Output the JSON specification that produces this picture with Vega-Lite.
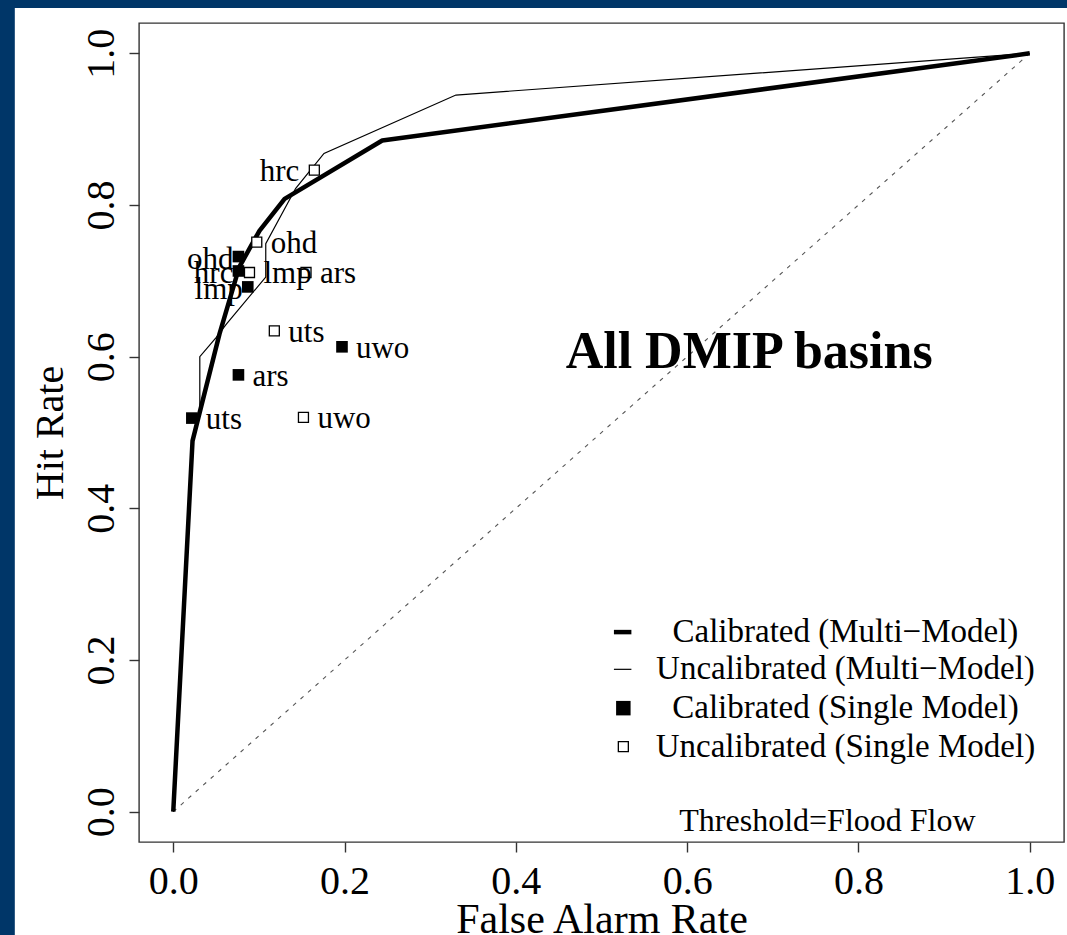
{
  "$schema": "https://vega.github.io/schema/vega-lite/v6.json",
  "width": 925,
  "height": 819,
  "autosize": {"type": "none"},
  "padding": {"left": 139, "top": 23, "right": 3, "bottom": 93},
  "background": "white",
  "config": {
    "font": "Liberation Serif",
    "view": {"stroke": "#333333", "strokeWidth": 1.4, "fill": "white"},
    "text": {"font": "Liberation Serif", "color": "black"}
  },
  "datasets": {
    "diag": [{"far": 0, "hr": 0}, {"far": 1, "hr": 1}],
    "curves": [
      {"series": "Calibrated", "i": 0, "far": 0, "hr": 0},
      {"series": "Calibrated", "i": 1, "far": 0.0225, "hr": 0.489},
      {"series": "Calibrated", "i": 2, "far": 0.054, "hr": 0.63},
      {"series": "Calibrated", "i": 3, "far": 0.077, "hr": 0.718},
      {"series": "Calibrated", "i": 4, "far": 0.1006, "hr": 0.766},
      {"series": "Calibrated", "i": 5, "far": 0.13, "hr": 0.808},
      {"series": "Calibrated", "i": 6, "far": 0.244, "hr": 0.885},
      {"series": "Calibrated", "i": 7, "far": 1, "hr": 1},
      {"series": "Uncalibrated", "i": 0, "far": 0, "hr": 0},
      {"series": "Uncalibrated", "i": 1, "far": 0.0225, "hr": 0.482},
      {"series": "Uncalibrated", "i": 2, "far": 0.031, "hr": 0.53},
      {"series": "Uncalibrated", "i": 3, "far": 0.031, "hr": 0.6},
      {"series": "Uncalibrated", "i": 4, "far": 0.05, "hr": 0.625},
      {"series": "Uncalibrated", "i": 5, "far": 0.062, "hr": 0.643},
      {"series": "Uncalibrated", "i": 6, "far": 0.108, "hr": 0.705},
      {"series": "Uncalibrated", "i": 7, "far": 0.108, "hr": 0.749},
      {"series": "Uncalibrated", "i": 8, "far": 0.143, "hr": 0.822},
      {"series": "Uncalibrated", "i": 9, "far": 0.176, "hr": 0.868},
      {"series": "Uncalibrated", "i": 10, "far": 0.33, "hr": 0.945},
      {"series": "Uncalibrated", "i": 11, "far": 1, "hr": 1}
    ],
    "points": [
      {"type": "Calibrated", "model": "ohd", "far": 0.0761, "hr": 0.732},
      {"type": "Calibrated", "model": "hrc", "far": 0.0761, "hr": 0.713},
      {"type": "Calibrated", "model": "lmp", "far": 0.087, "hr": 0.692},
      {"type": "Calibrated", "model": "ars", "far": 0.0761, "hr": 0.576},
      {"type": "Calibrated", "model": "uts", "far": 0.0217, "hr": 0.519},
      {"type": "Calibrated", "model": "uwo", "far": 0.197, "hr": 0.613},
      {"type": "Uncalibrated", "model": "hrc", "far": 0.1647, "hr": 0.846},
      {"type": "Uncalibrated", "model": "ohd", "far": 0.0975, "hr": 0.751},
      {"type": "Uncalibrated", "model": "lmp", "far": 0.089, "hr": 0.711},
      {"type": "Uncalibrated", "model": "ars", "far": 0.155, "hr": 0.711},
      {"type": "Uncalibrated", "model": "uts", "far": 0.118, "hr": 0.634},
      {"type": "Uncalibrated", "model": "uwo", "far": 0.152, "hr": 0.52}
    ]
  },
  "layer": [
    {
      "data": {"name": "diag"},
      "mark": {"type": "line", "stroke": "#555555", "strokeWidth": 1.1, "strokeDash": [4, 6]},
      "encoding": {
        "x": {"field": "far", "type": "quantitative", "scale": {"domain": [-0.04, 1.04], "nice": false, "zero": false},
          "axis": {"values": [0, 0.2, 0.4, 0.6, 0.8, 1], "format": ".1f", "grid": false, "domain": false, "tickSize": 10, "tickColor": "#333333", "tickWidth": 1.4, "labelFontSize": 40, "labelFont": "Liberation Serif", "labelColor": "black", "labelPadding": 9, "labelFlush": false, "labelOverlap": false, "title": "False Alarm Rate", "titleFont": "Liberation Serif", "titleFontSize": 42, "titleFontWeight": "normal", "titleColor": "black", "titleY": 90, "titleBaseline": "alphabetic", "zindex": 1}},
        "y": {"field": "hr", "type": "quantitative", "scale": {"domain": [-0.04, 1.04], "nice": false, "zero": false},
          "axis": {"values": [0, 0.2, 0.4, 0.6, 0.8, 1], "format": ".1f", "grid": false, "domain": false, "tickSize": 10, "tickColor": "#333333", "tickWidth": 1.4, "labelFontSize": 40, "labelFont": "Liberation Serif", "labelColor": "black", "labelAngle": 270, "labelAlign": "center", "labelBaseline": "alphabetic", "labelPadding": 16, "labelFlush": false, "labelOverlap": false, "title": "Hit Rate", "titleFont": "Liberation Serif", "titleFontSize": 40, "titleFontWeight": "normal", "titleColor": "black", "titleX": -77, "titleBaseline": "alphabetic", "zindex": 1}}
      }
    },
    {
      "data": {"values": [{}]},
      "mark": {"type": "rect", "fill": "#003668", "clip": false},
      "encoding": {
        "x": {"datum": -0.3, "type": "quantitative", "scale": {"domain": [-0.04, 1.04], "nice": false, "zero": false},
          "axis": {"values": [0, 0.2, 0.4, 0.6, 0.8, 1], "format": ".1f", "grid": false, "domain": false, "tickSize": 10, "tickColor": "#333333", "tickWidth": 1.4, "labelFontSize": 40, "labelFont": "Liberation Serif", "labelColor": "black", "labelPadding": 9, "labelFlush": false, "labelOverlap": false, "title": "False Alarm Rate", "titleFont": "Liberation Serif", "titleFontSize": 42, "titleFontWeight": "normal", "titleColor": "black", "titleY": 90, "titleBaseline": "alphabetic", "zindex": 1}},
        "x2": {"datum": 1.3},
        "y": {"datum": 1.0599, "type": "quantitative", "scale": {"domain": [-0.04, 1.04], "nice": false, "zero": false},
          "axis": {"values": [0, 0.2, 0.4, 0.6, 0.8, 1], "format": ".1f", "grid": false, "domain": false, "tickSize": 10, "tickColor": "#333333", "tickWidth": 1.4, "labelFontSize": 40, "labelFont": "Liberation Serif", "labelColor": "black", "labelAngle": 270, "labelAlign": "center", "labelBaseline": "alphabetic", "labelPadding": 16, "labelFlush": false, "labelOverlap": false, "title": "Hit Rate", "titleFont": "Liberation Serif", "titleFontSize": 40, "titleFontWeight": "normal", "titleColor": "black", "titleX": -77, "titleBaseline": "alphabetic", "zindex": 1}},
        "y2": {"datum": 1.2}
      }
    },
    {
      "data": {"values": [{}]},
      "mark": {"type": "rect", "fill": "#003668", "clip": false},
      "encoding": {
        "x": {"datum": -0.3, "type": "quantitative", "scale": {"domain": [-0.04, 1.04], "nice": false, "zero": false},
          "axis": {"values": [0, 0.2, 0.4, 0.6, 0.8, 1], "format": ".1f", "grid": false, "domain": false, "tickSize": 10, "tickColor": "#333333", "tickWidth": 1.4, "labelFontSize": 40, "labelFont": "Liberation Serif", "labelColor": "black", "labelPadding": 9, "labelFlush": false, "labelOverlap": false, "title": "False Alarm Rate", "titleFont": "Liberation Serif", "titleFontSize": 42, "titleFontWeight": "normal", "titleColor": "black", "titleY": 90, "titleBaseline": "alphabetic", "zindex": 1}},
        "x2": {"datum": -0.185},
        "y": {"datum": -0.3, "type": "quantitative", "scale": {"domain": [-0.04, 1.04], "nice": false, "zero": false},
          "axis": {"values": [0, 0.2, 0.4, 0.6, 0.8, 1], "format": ".1f", "grid": false, "domain": false, "tickSize": 10, "tickColor": "#333333", "tickWidth": 1.4, "labelFontSize": 40, "labelFont": "Liberation Serif", "labelColor": "black", "labelAngle": 270, "labelAlign": "center", "labelBaseline": "alphabetic", "labelPadding": 16, "labelFlush": false, "labelOverlap": false, "title": "Hit Rate", "titleFont": "Liberation Serif", "titleFontSize": 40, "titleFontWeight": "normal", "titleColor": "black", "titleX": -77, "titleBaseline": "alphabetic", "zindex": 1}},
        "y2": {"datum": 1.2}
      }
    },
    {
      "data": {"name": "curves"},
      "transform": [{"filter": "datum.series === 'Uncalibrated'"}],
      "mark": {"type": "line", "stroke": "black", "strokeWidth": 1.2},
      "encoding": {
        "x": {"field": "far", "type": "quantitative", "scale": {"domain": [-0.04, 1.04], "nice": false, "zero": false},
          "axis": {"values": [0, 0.2, 0.4, 0.6, 0.8, 1], "format": ".1f", "grid": false, "domain": false, "tickSize": 10, "tickColor": "#333333", "tickWidth": 1.4, "labelFontSize": 40, "labelFont": "Liberation Serif", "labelColor": "black", "labelPadding": 9, "labelFlush": false, "labelOverlap": false, "title": "False Alarm Rate", "titleFont": "Liberation Serif", "titleFontSize": 42, "titleFontWeight": "normal", "titleColor": "black", "titleY": 90, "titleBaseline": "alphabetic", "zindex": 1}},
        "y": {"field": "hr", "type": "quantitative", "scale": {"domain": [-0.04, 1.04], "nice": false, "zero": false},
          "axis": {"values": [0, 0.2, 0.4, 0.6, 0.8, 1], "format": ".1f", "grid": false, "domain": false, "tickSize": 10, "tickColor": "#333333", "tickWidth": 1.4, "labelFontSize": 40, "labelFont": "Liberation Serif", "labelColor": "black", "labelAngle": 270, "labelAlign": "center", "labelBaseline": "alphabetic", "labelPadding": 16, "labelFlush": false, "labelOverlap": false, "title": "Hit Rate", "titleFont": "Liberation Serif", "titleFontSize": 40, "titleFontWeight": "normal", "titleColor": "black", "titleX": -77, "titleBaseline": "alphabetic", "zindex": 1}},
        "order": {"field": "i", "type": "quantitative"}
      }
    },
    {
      "data": {"name": "curves"},
      "transform": [{"filter": "datum.series === 'Calibrated'"}],
      "mark": {"type": "line", "stroke": "black", "strokeWidth": 4.5, "strokeJoin": "round"},
      "encoding": {
        "x": {"field": "far", "type": "quantitative", "scale": {"domain": [-0.04, 1.04], "nice": false, "zero": false},
          "axis": {"values": [0, 0.2, 0.4, 0.6, 0.8, 1], "format": ".1f", "grid": false, "domain": false, "tickSize": 10, "tickColor": "#333333", "tickWidth": 1.4, "labelFontSize": 40, "labelFont": "Liberation Serif", "labelColor": "black", "labelPadding": 9, "labelFlush": false, "labelOverlap": false, "title": "False Alarm Rate", "titleFont": "Liberation Serif", "titleFontSize": 42, "titleFontWeight": "normal", "titleColor": "black", "titleY": 90, "titleBaseline": "alphabetic", "zindex": 1}},
        "y": {"field": "hr", "type": "quantitative", "scale": {"domain": [-0.04, 1.04], "nice": false, "zero": false},
          "axis": {"values": [0, 0.2, 0.4, 0.6, 0.8, 1], "format": ".1f", "grid": false, "domain": false, "tickSize": 10, "tickColor": "#333333", "tickWidth": 1.4, "labelFontSize": 40, "labelFont": "Liberation Serif", "labelColor": "black", "labelAngle": 270, "labelAlign": "center", "labelBaseline": "alphabetic", "labelPadding": 16, "labelFlush": false, "labelOverlap": false, "title": "Hit Rate", "titleFont": "Liberation Serif", "titleFontSize": 40, "titleFontWeight": "normal", "titleColor": "black", "titleX": -77, "titleBaseline": "alphabetic", "zindex": 1}},
        "order": {"field": "i", "type": "quantitative"}
      }
    },
    {
      "data": {"name": "points"},
      "transform": [{"filter": "datum.type === 'Calibrated'"}],
      "mark": {"type": "square", "filled": true, "color": "black", "size": 135, "opacity": 1},
      "encoding": {
        "x": {"field": "far", "type": "quantitative", "scale": {"domain": [-0.04, 1.04], "nice": false, "zero": false},
          "axis": {"values": [0, 0.2, 0.4, 0.6, 0.8, 1], "format": ".1f", "grid": false, "domain": false, "tickSize": 10, "tickColor": "#333333", "tickWidth": 1.4, "labelFontSize": 40, "labelFont": "Liberation Serif", "labelColor": "black", "labelPadding": 9, "labelFlush": false, "labelOverlap": false, "title": "False Alarm Rate", "titleFont": "Liberation Serif", "titleFontSize": 42, "titleFontWeight": "normal", "titleColor": "black", "titleY": 90, "titleBaseline": "alphabetic", "zindex": 1}},
        "y": {"field": "hr", "type": "quantitative", "scale": {"domain": [-0.04, 1.04], "nice": false, "zero": false},
          "axis": {"values": [0, 0.2, 0.4, 0.6, 0.8, 1], "format": ".1f", "grid": false, "domain": false, "tickSize": 10, "tickColor": "#333333", "tickWidth": 1.4, "labelFontSize": 40, "labelFont": "Liberation Serif", "labelColor": "black", "labelAngle": 270, "labelAlign": "center", "labelBaseline": "alphabetic", "labelPadding": 16, "labelFlush": false, "labelOverlap": false, "title": "Hit Rate", "titleFont": "Liberation Serif", "titleFontSize": 40, "titleFontWeight": "normal", "titleColor": "black", "titleX": -77, "titleBaseline": "alphabetic", "zindex": 1}}
      }
    },
    {
      "data": {"name": "points"},
      "transform": [{"filter": "datum.type === 'Uncalibrated'"}],
      "mark": {"type": "square", "filled": true, "fill": "white", "stroke": "black", "strokeWidth": 1.3, "size": 100, "opacity": 1},
      "encoding": {
        "x": {"field": "far", "type": "quantitative", "scale": {"domain": [-0.04, 1.04], "nice": false, "zero": false},
          "axis": {"values": [0, 0.2, 0.4, 0.6, 0.8, 1], "format": ".1f", "grid": false, "domain": false, "tickSize": 10, "tickColor": "#333333", "tickWidth": 1.4, "labelFontSize": 40, "labelFont": "Liberation Serif", "labelColor": "black", "labelPadding": 9, "labelFlush": false, "labelOverlap": false, "title": "False Alarm Rate", "titleFont": "Liberation Serif", "titleFontSize": 42, "titleFontWeight": "normal", "titleColor": "black", "titleY": 90, "titleBaseline": "alphabetic", "zindex": 1}},
        "y": {"field": "hr", "type": "quantitative", "scale": {"domain": [-0.04, 1.04], "nice": false, "zero": false},
          "axis": {"values": [0, 0.2, 0.4, 0.6, 0.8, 1], "format": ".1f", "grid": false, "domain": false, "tickSize": 10, "tickColor": "#333333", "tickWidth": 1.4, "labelFontSize": 40, "labelFont": "Liberation Serif", "labelColor": "black", "labelAngle": 270, "labelAlign": "center", "labelBaseline": "alphabetic", "labelPadding": 16, "labelFlush": false, "labelOverlap": false, "title": "Hit Rate", "titleFont": "Liberation Serif", "titleFontSize": 40, "titleFontWeight": "normal", "titleColor": "black", "titleX": -77, "titleBaseline": "alphabetic", "zindex": 1}}
      }
    },
    {
      "data": {"name": "points"},
      "transform": [{"filter": "!((datum.type === 'Calibrated' && (datum.model === 'ohd' || datum.model === 'hrc' || datum.model === 'lmp')) || (datum.type === 'Uncalibrated' && datum.model === 'hrc'))"}],
      "mark": {"type": "text", "align": "left", "baseline": "middle", "dx": 14, "dy": 2, "fontSize": 31, "font": "Liberation Serif", "color": "black"},
      "encoding": {
        "x": {"field": "far", "type": "quantitative", "scale": {"domain": [-0.04, 1.04], "nice": false, "zero": false},
          "axis": {"values": [0, 0.2, 0.4, 0.6, 0.8, 1], "format": ".1f", "grid": false, "domain": false, "tickSize": 10, "tickColor": "#333333", "tickWidth": 1.4, "labelFontSize": 40, "labelFont": "Liberation Serif", "labelColor": "black", "labelPadding": 9, "labelFlush": false, "labelOverlap": false, "title": "False Alarm Rate", "titleFont": "Liberation Serif", "titleFontSize": 42, "titleFontWeight": "normal", "titleColor": "black", "titleY": 90, "titleBaseline": "alphabetic", "zindex": 1}},
        "y": {"field": "hr", "type": "quantitative", "scale": {"domain": [-0.04, 1.04], "nice": false, "zero": false},
          "axis": {"values": [0, 0.2, 0.4, 0.6, 0.8, 1], "format": ".1f", "grid": false, "domain": false, "tickSize": 10, "tickColor": "#333333", "tickWidth": 1.4, "labelFontSize": 40, "labelFont": "Liberation Serif", "labelColor": "black", "labelAngle": 270, "labelAlign": "center", "labelBaseline": "alphabetic", "labelPadding": 16, "labelFlush": false, "labelOverlap": false, "title": "Hit Rate", "titleFont": "Liberation Serif", "titleFontSize": 40, "titleFontWeight": "normal", "titleColor": "black", "titleX": -77, "titleBaseline": "alphabetic", "zindex": 1}},
        "text": {"field": "model"}
      }
    },
    {
      "data": {"name": "points"},
      "transform": [{"filter": "datum.type === 'Calibrated' && (datum.model === 'ohd' || datum.model === 'hrc' || datum.model === 'lmp')"}],
      "mark": {"type": "text", "align": "right", "baseline": "middle", "dx": -5, "dy": 3, "fontSize": 31, "font": "Liberation Serif", "color": "black"},
      "encoding": {
        "x": {"field": "far", "type": "quantitative", "scale": {"domain": [-0.04, 1.04], "nice": false, "zero": false},
          "axis": {"values": [0, 0.2, 0.4, 0.6, 0.8, 1], "format": ".1f", "grid": false, "domain": false, "tickSize": 10, "tickColor": "#333333", "tickWidth": 1.4, "labelFontSize": 40, "labelFont": "Liberation Serif", "labelColor": "black", "labelPadding": 9, "labelFlush": false, "labelOverlap": false, "title": "False Alarm Rate", "titleFont": "Liberation Serif", "titleFontSize": 42, "titleFontWeight": "normal", "titleColor": "black", "titleY": 90, "titleBaseline": "alphabetic", "zindex": 1}},
        "y": {"field": "hr", "type": "quantitative", "scale": {"domain": [-0.04, 1.04], "nice": false, "zero": false},
          "axis": {"values": [0, 0.2, 0.4, 0.6, 0.8, 1], "format": ".1f", "grid": false, "domain": false, "tickSize": 10, "tickColor": "#333333", "tickWidth": 1.4, "labelFontSize": 40, "labelFont": "Liberation Serif", "labelColor": "black", "labelAngle": 270, "labelAlign": "center", "labelBaseline": "alphabetic", "labelPadding": 16, "labelFlush": false, "labelOverlap": false, "title": "Hit Rate", "titleFont": "Liberation Serif", "titleFontSize": 40, "titleFontWeight": "normal", "titleColor": "black", "titleX": -77, "titleBaseline": "alphabetic", "zindex": 1}},
        "text": {"field": "model"}
      }
    },
    {
      "data": {"name": "points"},
      "transform": [{"filter": "datum.type === 'Uncalibrated' && datum.model === 'hrc'"}],
      "mark": {"type": "text", "align": "right", "baseline": "middle", "dx": -15, "dy": 2, "fontSize": 31, "font": "Liberation Serif", "color": "black"},
      "encoding": {
        "x": {"field": "far", "type": "quantitative", "scale": {"domain": [-0.04, 1.04], "nice": false, "zero": false},
          "axis": {"values": [0, 0.2, 0.4, 0.6, 0.8, 1], "format": ".1f", "grid": false, "domain": false, "tickSize": 10, "tickColor": "#333333", "tickWidth": 1.4, "labelFontSize": 40, "labelFont": "Liberation Serif", "labelColor": "black", "labelPadding": 9, "labelFlush": false, "labelOverlap": false, "title": "False Alarm Rate", "titleFont": "Liberation Serif", "titleFontSize": 42, "titleFontWeight": "normal", "titleColor": "black", "titleY": 90, "titleBaseline": "alphabetic", "zindex": 1}},
        "y": {"field": "hr", "type": "quantitative", "scale": {"domain": [-0.04, 1.04], "nice": false, "zero": false},
          "axis": {"values": [0, 0.2, 0.4, 0.6, 0.8, 1], "format": ".1f", "grid": false, "domain": false, "tickSize": 10, "tickColor": "#333333", "tickWidth": 1.4, "labelFontSize": 40, "labelFont": "Liberation Serif", "labelColor": "black", "labelAngle": 270, "labelAlign": "center", "labelBaseline": "alphabetic", "labelPadding": 16, "labelFlush": false, "labelOverlap": false, "title": "Hit Rate", "titleFont": "Liberation Serif", "titleFontSize": 40, "titleFontWeight": "normal", "titleColor": "black", "titleX": -77, "titleBaseline": "alphabetic", "zindex": 1}},
        "text": {"field": "model"}
      }
    },
    {
      "data": {"values": [{}]},
      "mark": {"type": "text", "align": "center", "baseline": "middle", "fontSize": 52, "fontWeight": "bold", "font": "Liberation Serif", "color": "black"},
      "encoding": {
        "x": {"datum": 0.6724, "type": "quantitative", "scale": {"domain": [-0.04, 1.04], "nice": false, "zero": false},
          "axis": {"values": [0, 0.2, 0.4, 0.6, 0.8, 1], "format": ".1f", "grid": false, "domain": false, "tickSize": 10, "tickColor": "#333333", "tickWidth": 1.4, "labelFontSize": 40, "labelFont": "Liberation Serif", "labelColor": "black", "labelPadding": 9, "labelFlush": false, "labelOverlap": false, "title": "False Alarm Rate", "titleFont": "Liberation Serif", "titleFontSize": 42, "titleFontWeight": "normal", "titleColor": "black", "titleY": 90, "titleBaseline": "alphabetic", "zindex": 1}},
        "y": {"datum": 0.606, "type": "quantitative", "scale": {"domain": [-0.04, 1.04], "nice": false, "zero": false},
          "axis": {"values": [0, 0.2, 0.4, 0.6, 0.8, 1], "format": ".1f", "grid": false, "domain": false, "tickSize": 10, "tickColor": "#333333", "tickWidth": 1.4, "labelFontSize": 40, "labelFont": "Liberation Serif", "labelColor": "black", "labelAngle": 270, "labelAlign": "center", "labelBaseline": "alphabetic", "labelPadding": 16, "labelFlush": false, "labelOverlap": false, "title": "Hit Rate", "titleFont": "Liberation Serif", "titleFontSize": 40, "titleFontWeight": "normal", "titleColor": "black", "titleX": -77, "titleBaseline": "alphabetic", "zindex": 1}},
        "text": {"value": "All DMIP basins"}
      }
    },
    {
      "data": {"values": [{}]},
      "mark": {"type": "rule", "stroke": "black", "strokeWidth": 4.5},
      "encoding": {
        "x": {"datum": 0.5145, "type": "quantitative", "scale": {"domain": [-0.04, 1.04], "nice": false, "zero": false},
          "axis": {"values": [0, 0.2, 0.4, 0.6, 0.8, 1], "format": ".1f", "grid": false, "domain": false, "tickSize": 10, "tickColor": "#333333", "tickWidth": 1.4, "labelFontSize": 40, "labelFont": "Liberation Serif", "labelColor": "black", "labelPadding": 9, "labelFlush": false, "labelOverlap": false, "title": "False Alarm Rate", "titleFont": "Liberation Serif", "titleFontSize": 42, "titleFontWeight": "normal", "titleColor": "black", "titleY": 90, "titleBaseline": "alphabetic", "zindex": 1}},
        "x2": {"datum": 0.5349},
        "y": {"datum": 0.2368, "type": "quantitative", "scale": {"domain": [-0.04, 1.04], "nice": false, "zero": false},
          "axis": {"values": [0, 0.2, 0.4, 0.6, 0.8, 1], "format": ".1f", "grid": false, "domain": false, "tickSize": 10, "tickColor": "#333333", "tickWidth": 1.4, "labelFontSize": 40, "labelFont": "Liberation Serif", "labelColor": "black", "labelAngle": 270, "labelAlign": "center", "labelBaseline": "alphabetic", "labelPadding": 16, "labelFlush": false, "labelOverlap": false, "title": "Hit Rate", "titleFont": "Liberation Serif", "titleFontSize": 40, "titleFontWeight": "normal", "titleColor": "black", "titleX": -77, "titleBaseline": "alphabetic", "zindex": 1}}
      }
    },
    {
      "data": {"values": [{}]},
      "mark": {"type": "rule", "stroke": "black", "strokeWidth": 1.2},
      "encoding": {
        "x": {"datum": 0.5145, "type": "quantitative", "scale": {"domain": [-0.04, 1.04], "nice": false, "zero": false},
          "axis": {"values": [0, 0.2, 0.4, 0.6, 0.8, 1], "format": ".1f", "grid": false, "domain": false, "tickSize": 10, "tickColor": "#333333", "tickWidth": 1.4, "labelFontSize": 40, "labelFont": "Liberation Serif", "labelColor": "black", "labelPadding": 9, "labelFlush": false, "labelOverlap": false, "title": "False Alarm Rate", "titleFont": "Liberation Serif", "titleFontSize": 42, "titleFontWeight": "normal", "titleColor": "black", "titleY": 90, "titleBaseline": "alphabetic", "zindex": 1}},
        "x2": {"datum": 0.5349},
        "y": {"datum": 0.1877, "type": "quantitative", "scale": {"domain": [-0.04, 1.04], "nice": false, "zero": false},
          "axis": {"values": [0, 0.2, 0.4, 0.6, 0.8, 1], "format": ".1f", "grid": false, "domain": false, "tickSize": 10, "tickColor": "#333333", "tickWidth": 1.4, "labelFontSize": 40, "labelFont": "Liberation Serif", "labelColor": "black", "labelAngle": 270, "labelAlign": "center", "labelBaseline": "alphabetic", "labelPadding": 16, "labelFlush": false, "labelOverlap": false, "title": "Hit Rate", "titleFont": "Liberation Serif", "titleFontSize": 40, "titleFontWeight": "normal", "titleColor": "black", "titleX": -77, "titleBaseline": "alphabetic", "zindex": 1}}
      }
    },
    {
      "data": {"values": [{}]},
      "mark": {"type": "square", "filled": true, "color": "black", "size": 210, "opacity": 1},
      "encoding": {
        "x": {"datum": 0.5255, "type": "quantitative", "scale": {"domain": [-0.04, 1.04], "nice": false, "zero": false},
          "axis": {"values": [0, 0.2, 0.4, 0.6, 0.8, 1], "format": ".1f", "grid": false, "domain": false, "tickSize": 10, "tickColor": "#333333", "tickWidth": 1.4, "labelFontSize": 40, "labelFont": "Liberation Serif", "labelColor": "black", "labelPadding": 9, "labelFlush": false, "labelOverlap": false, "title": "False Alarm Rate", "titleFont": "Liberation Serif", "titleFontSize": 42, "titleFontWeight": "normal", "titleColor": "black", "titleY": 90, "titleBaseline": "alphabetic", "zindex": 1}},
        "y": {"datum": 0.1365, "type": "quantitative", "scale": {"domain": [-0.04, 1.04], "nice": false, "zero": false},
          "axis": {"values": [0, 0.2, 0.4, 0.6, 0.8, 1], "format": ".1f", "grid": false, "domain": false, "tickSize": 10, "tickColor": "#333333", "tickWidth": 1.4, "labelFontSize": 40, "labelFont": "Liberation Serif", "labelColor": "black", "labelAngle": 270, "labelAlign": "center", "labelBaseline": "alphabetic", "labelPadding": 16, "labelFlush": false, "labelOverlap": false, "title": "Hit Rate", "titleFont": "Liberation Serif", "titleFontSize": 40, "titleFontWeight": "normal", "titleColor": "black", "titleX": -77, "titleBaseline": "alphabetic", "zindex": 1}}
      }
    },
    {
      "data": {"values": [{}]},
      "mark": {"type": "square", "filled": true, "fill": "white", "stroke": "black", "strokeWidth": 1.3, "size": 100, "opacity": 1},
      "encoding": {
        "x": {"datum": 0.5255, "type": "quantitative", "scale": {"domain": [-0.04, 1.04], "nice": false, "zero": false},
          "axis": {"values": [0, 0.2, 0.4, 0.6, 0.8, 1], "format": ".1f", "grid": false, "domain": false, "tickSize": 10, "tickColor": "#333333", "tickWidth": 1.4, "labelFontSize": 40, "labelFont": "Liberation Serif", "labelColor": "black", "labelPadding": 9, "labelFlush": false, "labelOverlap": false, "title": "False Alarm Rate", "titleFont": "Liberation Serif", "titleFontSize": 42, "titleFontWeight": "normal", "titleColor": "black", "titleY": 90, "titleBaseline": "alphabetic", "zindex": 1}},
        "y": {"datum": 0.0859, "type": "quantitative", "scale": {"domain": [-0.04, 1.04], "nice": false, "zero": false},
          "axis": {"values": [0, 0.2, 0.4, 0.6, 0.8, 1], "format": ".1f", "grid": false, "domain": false, "tickSize": 10, "tickColor": "#333333", "tickWidth": 1.4, "labelFontSize": 40, "labelFont": "Liberation Serif", "labelColor": "black", "labelAngle": 270, "labelAlign": "center", "labelBaseline": "alphabetic", "labelPadding": 16, "labelFlush": false, "labelOverlap": false, "title": "Hit Rate", "titleFont": "Liberation Serif", "titleFontSize": 40, "titleFontWeight": "normal", "titleColor": "black", "titleX": -77, "titleBaseline": "alphabetic", "zindex": 1}}
      }
    },
    {
      "data": {"values": [{}]},
      "mark": {"type": "text", "align": "center", "baseline": "middle", "fontSize": 33, "font": "Liberation Serif", "color": "black"},
      "encoding": {
        "x": {"datum": 0.7848, "type": "quantitative", "scale": {"domain": [-0.04, 1.04], "nice": false, "zero": false},
          "axis": {"values": [0, 0.2, 0.4, 0.6, 0.8, 1], "format": ".1f", "grid": false, "domain": false, "tickSize": 10, "tickColor": "#333333", "tickWidth": 1.4, "labelFontSize": 40, "labelFont": "Liberation Serif", "labelColor": "black", "labelPadding": 9, "labelFlush": false, "labelOverlap": false, "title": "False Alarm Rate", "titleFont": "Liberation Serif", "titleFontSize": 42, "titleFontWeight": "normal", "titleColor": "black", "titleY": 90, "titleBaseline": "alphabetic", "zindex": 1}},
        "y": {"datum": 0.2372, "type": "quantitative", "scale": {"domain": [-0.04, 1.04], "nice": false, "zero": false},
          "axis": {"values": [0, 0.2, 0.4, 0.6, 0.8, 1], "format": ".1f", "grid": false, "domain": false, "tickSize": 10, "tickColor": "#333333", "tickWidth": 1.4, "labelFontSize": 40, "labelFont": "Liberation Serif", "labelColor": "black", "labelAngle": 270, "labelAlign": "center", "labelBaseline": "alphabetic", "labelPadding": 16, "labelFlush": false, "labelOverlap": false, "title": "Hit Rate", "titleFont": "Liberation Serif", "titleFontSize": 40, "titleFontWeight": "normal", "titleColor": "black", "titleX": -77, "titleBaseline": "alphabetic", "zindex": 1}},
        "text": {"value": "Calibrated (Multi−Model)"}
      }
    },
    {
      "data": {"values": [{}]},
      "mark": {"type": "text", "align": "center", "baseline": "middle", "fontSize": 33, "font": "Liberation Serif", "color": "black"},
      "encoding": {
        "x": {"datum": 0.7848, "type": "quantitative", "scale": {"domain": [-0.04, 1.04], "nice": false, "zero": false},
          "axis": {"values": [0, 0.2, 0.4, 0.6, 0.8, 1], "format": ".1f", "grid": false, "domain": false, "tickSize": 10, "tickColor": "#333333", "tickWidth": 1.4, "labelFontSize": 40, "labelFont": "Liberation Serif", "labelColor": "black", "labelPadding": 9, "labelFlush": false, "labelOverlap": false, "title": "False Alarm Rate", "titleFont": "Liberation Serif", "titleFontSize": 42, "titleFontWeight": "normal", "titleColor": "black", "titleY": 90, "titleBaseline": "alphabetic", "zindex": 1}},
        "y": {"datum": 0.1877, "type": "quantitative", "scale": {"domain": [-0.04, 1.04], "nice": false, "zero": false},
          "axis": {"values": [0, 0.2, 0.4, 0.6, 0.8, 1], "format": ".1f", "grid": false, "domain": false, "tickSize": 10, "tickColor": "#333333", "tickWidth": 1.4, "labelFontSize": 40, "labelFont": "Liberation Serif", "labelColor": "black", "labelAngle": 270, "labelAlign": "center", "labelBaseline": "alphabetic", "labelPadding": 16, "labelFlush": false, "labelOverlap": false, "title": "Hit Rate", "titleFont": "Liberation Serif", "titleFontSize": 40, "titleFontWeight": "normal", "titleColor": "black", "titleX": -77, "titleBaseline": "alphabetic", "zindex": 1}},
        "text": {"value": "Uncalibrated (Multi−Model)"}
      }
    },
    {
      "data": {"values": [{}]},
      "mark": {"type": "text", "align": "center", "baseline": "middle", "fontSize": 33, "font": "Liberation Serif", "color": "black"},
      "encoding": {
        "x": {"datum": 0.7848, "type": "quantitative", "scale": {"domain": [-0.04, 1.04], "nice": false, "zero": false},
          "axis": {"values": [0, 0.2, 0.4, 0.6, 0.8, 1], "format": ".1f", "grid": false, "domain": false, "tickSize": 10, "tickColor": "#333333", "tickWidth": 1.4, "labelFontSize": 40, "labelFont": "Liberation Serif", "labelColor": "black", "labelPadding": 9, "labelFlush": false, "labelOverlap": false, "title": "False Alarm Rate", "titleFont": "Liberation Serif", "titleFontSize": 42, "titleFontWeight": "normal", "titleColor": "black", "titleY": 90, "titleBaseline": "alphabetic", "zindex": 1}},
        "y": {"datum": 0.1365, "type": "quantitative", "scale": {"domain": [-0.04, 1.04], "nice": false, "zero": false},
          "axis": {"values": [0, 0.2, 0.4, 0.6, 0.8, 1], "format": ".1f", "grid": false, "domain": false, "tickSize": 10, "tickColor": "#333333", "tickWidth": 1.4, "labelFontSize": 40, "labelFont": "Liberation Serif", "labelColor": "black", "labelAngle": 270, "labelAlign": "center", "labelBaseline": "alphabetic", "labelPadding": 16, "labelFlush": false, "labelOverlap": false, "title": "Hit Rate", "titleFont": "Liberation Serif", "titleFontSize": 40, "titleFontWeight": "normal", "titleColor": "black", "titleX": -77, "titleBaseline": "alphabetic", "zindex": 1}},
        "text": {"value": "Calibrated (Single Model)"}
      }
    },
    {
      "data": {"values": [{}]},
      "mark": {"type": "text", "align": "center", "baseline": "middle", "fontSize": 33, "font": "Liberation Serif", "color": "black"},
      "encoding": {
        "x": {"datum": 0.7848, "type": "quantitative", "scale": {"domain": [-0.04, 1.04], "nice": false, "zero": false},
          "axis": {"values": [0, 0.2, 0.4, 0.6, 0.8, 1], "format": ".1f", "grid": false, "domain": false, "tickSize": 10, "tickColor": "#333333", "tickWidth": 1.4, "labelFontSize": 40, "labelFont": "Liberation Serif", "labelColor": "black", "labelPadding": 9, "labelFlush": false, "labelOverlap": false, "title": "False Alarm Rate", "titleFont": "Liberation Serif", "titleFontSize": 42, "titleFontWeight": "normal", "titleColor": "black", "titleY": 90, "titleBaseline": "alphabetic", "zindex": 1}},
        "y": {"datum": 0.0859, "type": "quantitative", "scale": {"domain": [-0.04, 1.04], "nice": false, "zero": false},
          "axis": {"values": [0, 0.2, 0.4, 0.6, 0.8, 1], "format": ".1f", "grid": false, "domain": false, "tickSize": 10, "tickColor": "#333333", "tickWidth": 1.4, "labelFontSize": 40, "labelFont": "Liberation Serif", "labelColor": "black", "labelAngle": 270, "labelAlign": "center", "labelBaseline": "alphabetic", "labelPadding": 16, "labelFlush": false, "labelOverlap": false, "title": "Hit Rate", "titleFont": "Liberation Serif", "titleFontSize": 40, "titleFontWeight": "normal", "titleColor": "black", "titleX": -77, "titleBaseline": "alphabetic", "zindex": 1}},
        "text": {"value": "Uncalibrated (Single Model)"}
      }
    },
    {
      "data": {"values": [{}]},
      "mark": {"type": "text", "align": "center", "baseline": "middle", "fontSize": 32, "font": "Liberation Serif", "color": "black"},
      "encoding": {
        "x": {"datum": 0.7638, "type": "quantitative", "scale": {"domain": [-0.04, 1.04], "nice": false, "zero": false},
          "axis": {"values": [0, 0.2, 0.4, 0.6, 0.8, 1], "format": ".1f", "grid": false, "domain": false, "tickSize": 10, "tickColor": "#333333", "tickWidth": 1.4, "labelFontSize": 40, "labelFont": "Liberation Serif", "labelColor": "black", "labelPadding": 9, "labelFlush": false, "labelOverlap": false, "title": "False Alarm Rate", "titleFont": "Liberation Serif", "titleFontSize": 42, "titleFontWeight": "normal", "titleColor": "black", "titleY": 90, "titleBaseline": "alphabetic", "zindex": 1}},
        "y": {"datum": -0.0119, "type": "quantitative", "scale": {"domain": [-0.04, 1.04], "nice": false, "zero": false},
          "axis": {"values": [0, 0.2, 0.4, 0.6, 0.8, 1], "format": ".1f", "grid": false, "domain": false, "tickSize": 10, "tickColor": "#333333", "tickWidth": 1.4, "labelFontSize": 40, "labelFont": "Liberation Serif", "labelColor": "black", "labelAngle": 270, "labelAlign": "center", "labelBaseline": "alphabetic", "labelPadding": 16, "labelFlush": false, "labelOverlap": false, "title": "Hit Rate", "titleFont": "Liberation Serif", "titleFontSize": 40, "titleFontWeight": "normal", "titleColor": "black", "titleX": -77, "titleBaseline": "alphabetic", "zindex": 1}},
        "text": {"value": "Threshold=Flood Flow"}
      }
    }
  ]
}
